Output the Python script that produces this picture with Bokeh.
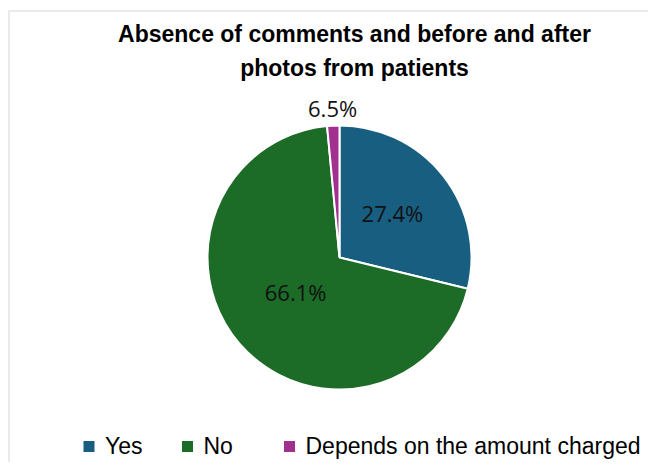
import math
from bokeh.plotting import figure
from bokeh.models import Range1d
from bokeh.core.properties import value
from bokeh.embed import file_html
from bokeh.resources import INLINE

# ---- data ----
categories = ["Yes", "No", "Depends on the amount charged"]
drawn_shares = [28.8, 69.7, 1.5]          # slice sizes as drawn in the picture
label_texts = ["27.4%", "66.1%", "6.5%"]  # printed data labels
colors = ["#175E80", "#1C6B27", "#A1308F"]
title_lines = ["Absence of comments and before and after", "photos from patients"]

# ---- layout (pixel-like data space, y measured from bottom) ----
W, H = 648, 462
cx, cy, R = 339, H - 257, 132
label_r = [0.51, 0.44, 1.11]
label_dy = 3
legend_sq_x = [88.5, 187, 289]
legend_txt_gap = 16
legend_base = H - 445
legend_sq_y = H - 446
text_shift = 8

p = figure(width=W, height=H, output_backend="svg", toolbar_location=None,
           x_range=Range1d(0, W), y_range=Range1d(0, H), min_border=0)
p.axis.visible = False
p.grid.visible = False
p.outline_line_color = None
p.background_fill_color = "white"

# border (left and top visible in the crop)
p.line(x=[8.5, 8.5, W], y=[0, H - 10.5, H - 10.5], line_color="#E3E3E3", line_width=1.5)

total = sum(drawn_shares)
start = math.pi / 2
starts, ends, mids = [], [], []
for s in drawn_shares:
    span = s / total * 2 * math.pi
    end = start - span
    starts.append(start)
    ends.append(end)
    mids.append((start + end) / 2)
    start = end

for i in range(len(categories)):
    p.wedge(x=cx, y=cy, radius=R, start_angle=ends[i], end_angle=starts[i],
            fill_color=colors[i], line_color="white", line_width=2)

lx = [cx + label_r[i] * R * math.cos(mids[i]) for i in range(3)]
ly = [cy + label_r[i] * R * math.sin(mids[i]) + label_dy for i in range(3)]
p.text(x=lx, y=ly, text=label_texts, text_font=value("Open Sans"),
       text_font_size="22px", text_align="center", text_baseline="middle",
       text_color="#111111")

# title
p.text(x=[354, 354], y=[H - 41 + text_shift, H - 75 + text_shift], text=title_lines,
       text_font=value("Liberation Sans"),
       text_font_style="bold", text_font_size="23px", text_align="center",
       text_baseline="alphabetic", text_color="#000000")

# legend
p.scatter(x=legend_sq_x, y=[legend_sq_y] * 3, marker="square", size=11,
          fill_color=colors, line_color=None)
p.text(x=[x + legend_txt_gap for x in legend_sq_x], y=[legend_base] * 3, text=categories,
       text_font=value("Liberation Sans"), text_font_size="23px", text_align="left",
       text_baseline="alphabetic", text_color="#000000")

open("out.html", "w").write(file_html(p, INLINE))
